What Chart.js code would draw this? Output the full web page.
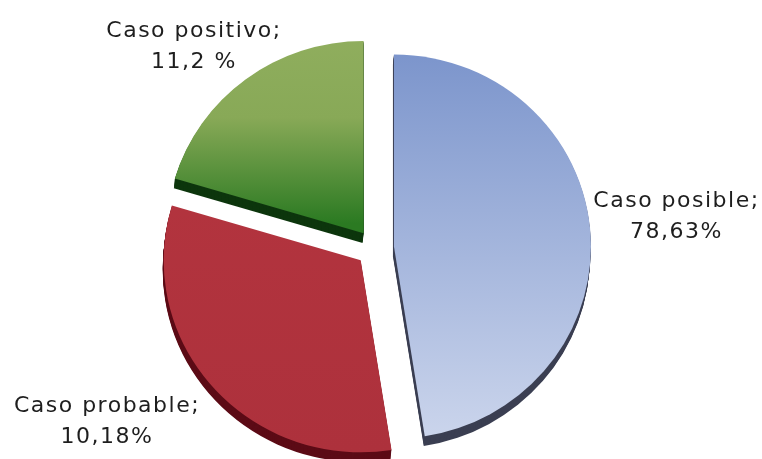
<!DOCTYPE html>
<html>
<head>
<meta charset="utf-8">
<script src="https://cdn.jsdelivr.net/npm/chart.js@4.4.1/dist/chart.umd.min.js"></script>
<style>
html,body{margin:0;padding:0;background:#ffffff;}
canvas{display:block;}
</style>
</head>
<body>
<canvas id="c" width="762" height="459"></canvas>
<script>
// ---- data ----
const categories = ['Caso posible', 'Caso probable', 'Caso positivo'];
const sliceValues = [47.5, 32.1, 20.4];          // visual share of each slice
const labelValues = ['78,63%', '10,18%', '11,2 %']; // texts printed on the chart

// ---- styles ----
const FACE_STOPS = [
  [[0, '#7c95cc'], [1, '#cbd5ec']],
  [[0, '#b5353f'], [1, '#ad313c']],
  [[0, '#90ae5e'], [0.45, '#88a957'], [1, '#2b7a22']]
];
const WALL_COLORS = ['#3b3f52', '#5c0b16', '#0d360d'];
const EXPLODE = 19, DEPTH_X = -1, DEPTH_Y = 10, RADIUS = 197, TILT = 0.975;
const LABEL_ANCHORS = [[676.5, 207], [107, 412], [194, 37]];
const LINE_H = 31;

function faceGradient(ctx, i, cx, cy, r) {
  let g;
  if (i === 2) g = ctx.createLinearGradient(0, cy - r - 10, 0, cy - 10);
  else g = ctx.createLinearGradient(0, cy - r, 0, cy + r);
  FACE_STOPS[i].forEach(s => g.addColorStop(s[0], s[1]));
  return g;
}

function slicePath(ctx, p) {
  ctx.beginPath();
  ctx.moveTo(p.x, p.y);
  ctx.arc(p.x, p.y, p.outerRadius, p.startAngle, p.endAngle);
  ctx.closePath();
}

const pie3d = {
  id: 'pie3d',
  beforeDatasetsDraw(chart) {
    const ctx = chart.ctx;
    const arcs = chart.getDatasetMeta(0).data;
    const props = arcs.map(a => a.getProps(['x', 'y', 'startAngle', 'endAngle', 'outerRadius'], true));
    const cx = props[0].x, cy = props[0].y;
    ctx.save();
    // slight tilt of the disc
    ctx.translate(cx, cy);
    ctx.scale(1, TILT);
    ctx.translate(-cx, -cy);
    // side walls
    props.forEach((p, i) => {
      const mid = (p.startAngle + p.endAngle) / 2;
      ctx.save();
      ctx.translate(Math.cos(mid) * EXPLODE, Math.sin(mid) * EXPLODE);
      ctx.fillStyle = WALL_COLORS[i];
      for (let k = DEPTH_Y; k > 0; k--) {
        ctx.save();
        ctx.translate(DEPTH_X * k / DEPTH_Y, k);
        slicePath(ctx, p);
        ctx.fill();
        ctx.restore();
      }
      ctx.restore();
    });
    // faces
    props.forEach((p, i) => {
      const mid = (p.startAngle + p.endAngle) / 2;
      ctx.save();
      ctx.translate(Math.cos(mid) * EXPLODE, Math.sin(mid) * EXPLODE);
      ctx.fillStyle = faceGradient(ctx, i, p.x, p.y, p.outerRadius);
      slicePath(ctx, p);
      ctx.fill();
      ctx.restore();
    });
    ctx.restore();
    return false;
  },
  afterDraw(chart) {
    const ctx = chart.ctx;
    ctx.save();
    ctx.font = '22px "DejaVu Sans"';
    ctx.fillStyle = '#1e1e1e';
    ctx.textAlign = 'center';
    ctx.textBaseline = 'alphabetic';
    if ('letterSpacing' in ctx) ctx.letterSpacing = '1.5px';
    categories.forEach((c, i) => {
      const [x, y] = LABEL_ANCHORS[i];
      ctx.fillText(c + ';', x, y);
      ctx.fillText(labelValues[i], x, y + LINE_H);
    });
    ctx.restore();
  }
};

new Chart(document.getElementById('c'), {
  type: 'pie',
  data: {
    labels: categories,
    datasets: [{
      data: sliceValues,
      backgroundColor: ['#9fb1dc', '#b1333f', '#6f9a48'],
      borderWidth: 0,
      radius: RADIUS
    }]
  },
  options: {
    responsive: false,
    animation: false,
    events: [],
    layout: { padding: { left: 0, right: 12, top: 37, bottom: 0 } },
    plugins: { legend: { display: false }, tooltip: { enabled: false } }
  },
  plugins: [pie3d]
});
</script>
</body>
</html>
